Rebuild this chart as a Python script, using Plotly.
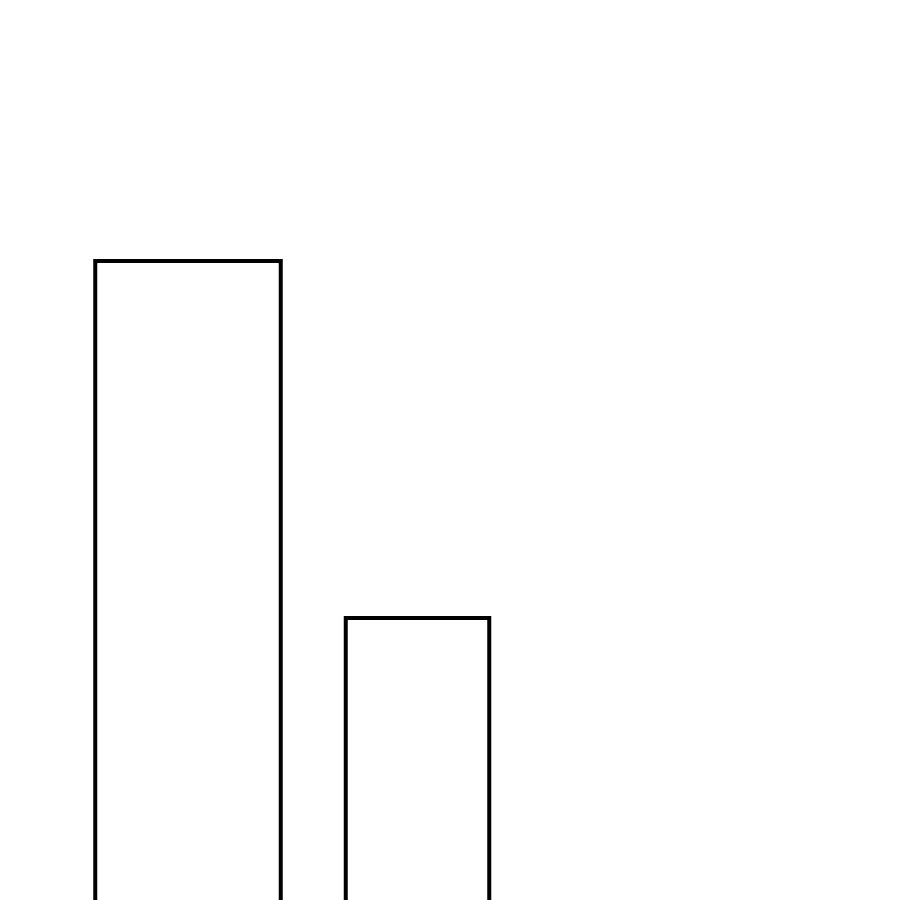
import plotly.graph_objects as go

# bar positions / widths / heights
centers = [188, 417.5]
widths = [185.5, 143.5]
heights = [647, 290]

fig = go.Figure()
fig.add_trace(
    go.Bar(
        x=centers,
        y=heights,
        width=widths,
        marker=dict(color="white", line=dict(color="black", width=4)),
        showlegend=False,
    )
)

fig.update_layout(
    width=900, height=900,
    margin=dict(l=0, r=0, t=0, b=0),
    paper_bgcolor="white",
    plot_bgcolor="white",
)
# page has an 8px body margin, so shift x by 8; bottom edge of bars falls off-screen
fig.update_xaxes(range=[8, 908], visible=False)
fig.update_yaxes(range=[0, 900], visible=False)

fig.write_html("out.html", config={"displayModeBar": False})
